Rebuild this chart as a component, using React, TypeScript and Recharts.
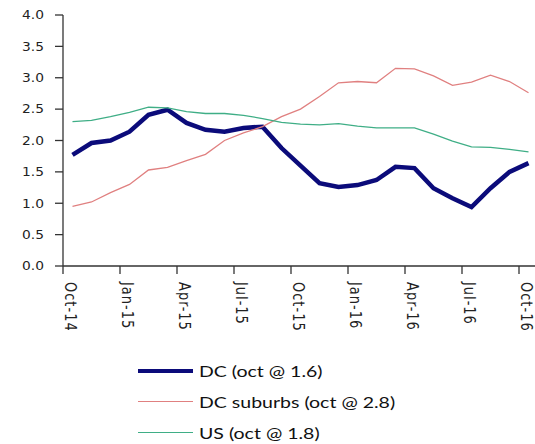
import React from "react";
import { LineChart, Line, XAxis, YAxis } from "recharts";

const months = [
  "Oct-14", "Nov-14", "Dec-14", "Jan-15", "Feb-15", "Mar-15", "Apr-15",
  "May-15", "Jun-15", "Jul-15", "Aug-15", "Sep-15", "Oct-15", "Nov-15",
  "Dec-15", "Jan-16", "Feb-16", "Mar-16", "Apr-16", "May-16", "Jun-16",
  "Jul-16", "Aug-16", "Sep-16", "Oct-16",
];

const dc = [
  1.77, 1.96, 2.0, 2.14, 2.41, 2.49, 2.28, 2.17, 2.14, 2.2, 2.22, 1.88, 1.6,
  1.32, 1.26, 1.29, 1.37, 1.58, 1.56, 1.24, 1.08, 0.94, 1.24, 1.5, 1.64,
];
const dcSuburbs = [
  0.95, 1.02, 1.17, 1.3, 1.53, 1.57, 1.68, 1.78, 2.0, 2.12, 2.22, 2.38, 2.5,
  2.7, 2.92, 2.94, 2.92, 3.15, 3.14, 3.03, 2.88, 2.93, 3.04, 2.94, 2.76,
];
const us = [
  2.3, 2.32, 2.38, 2.45, 2.53, 2.52, 2.46, 2.43, 2.43, 2.4, 2.35, 2.29, 2.26,
  2.25, 2.27, 2.23, 2.2, 2.2, 2.2, 2.1, 1.99, 1.9, 1.89, 1.86, 1.82,
];

const yTicks = [0, 0.5, 1, 1.5, 2, 2.5, 3, 3.5, 4];
// tick marks sit at category boundaries, every 3 months
const xTicks = months.map((_, i) => i - 0.5).filter((_, i) => i % 3 === 0);

const series = [
  { key: "dc", name: "DC (oct @ 1.6)", color: "#0b0b7a", width: 4.5 },
  { key: "sub", name: "DC suburbs (oct @ 2.8)", color: "#e08080", width: 1.3 },
  { key: "us", name: "US (oct @ 1.8)", color: "#3fae86", width: 1.3 },
];

const data = months.map((m, i) => ({
  i,
  month: m,
  dc: dc[i],
  sub: dcSuburbs[i],
  us: us[i],
}));

const tickFont = "DejaVu Sans";

function YTick({ x, y, payload }: any) {
  return (
    <g transform={`translate(${x},${y})`}>
      <text
        transform="scale(1.15,1)"
        textAnchor="end"
        dy="0.36em"
        style={{ fontSize: 12, fontFamily: tickFont }}
        fill="#222"
      >
        {Number(payload.value).toFixed(1)}
      </text>
    </g>
  );
}

function XTick({ x, payload }: any) {
  const label = months[Math.round(payload.value + 0.5)];
  return (
    <g transform={`translate(${x + 2},282)`}>
      <text
        transform="scale(1.2,1) rotate(90)"
        textAnchor="start"
        style={{ fontSize: 13, fontFamily: tickFont, letterSpacing: 1 }}
        fill="#222"
      >
        {label}
      </text>
    </g>
  );
}

export default function App() {
  return (
    <div
      style={{
        position: "absolute",
        left: 0,
        top: 0,
        width: 535,
        height: 444,
        overflow: "hidden",
        background: "#fff",
      }}
    >
      <LineChart
        width={538}
        height={444}
        data={data}
        margin={{ top: 15, right: 0, left: 0, bottom: 0 }}
      >
        <XAxis
          type="number"
          dataKey="i"
          domain={[-0.5, 24.5]}
          ticks={xTicks}
          interval={0}
          height={178}
          tickSize={8}
          tick={<XTick />}
          axisLine={{ stroke: "#333", strokeWidth: 1.3 }}
          tickLine={{ stroke: "#333", strokeWidth: 1.3 }}
        />
        <YAxis
          type="number"
          domain={[0, 4]}
          ticks={yTicks}
          width={63}
          tickSize={8}
          tickMargin={11}
          tick={<YTick />}
          axisLine={{ stroke: "#333", strokeWidth: 1.3 }}
          tickLine={{ stroke: "#333", strokeWidth: 1.3 }}
        />
        {series.map((s) => (
          <Line
            key={s.key}
            dataKey={s.key}
            name={s.name}
            stroke={s.color}
            strokeWidth={s.width}
            dot={false}
            type="linear"
            isAnimationActive={false}
          />
        ))}
      </LineChart>
      <div style={{ position: "absolute", left: 138, top: 355 }}>
        {series.map((s) => (
          <div
            key={s.key}
            style={{ display: "flex", alignItems: "center", height: 31 }}
          >
            <div
              style={{
                width: 55,
                height: s.width > 2 ? 4 : 1.3,
                background: s.color,
                marginRight: 6,
              }}
            />
            <span
              style={{
                display: "inline-block",
                transform: "scaleX(1.3)",
                transformOrigin: "left center",
                fontFamily: "Lato, sans-serif",
                fontSize: 15,
                color: "#111",
                whiteSpace: "nowrap",
              }}
            >
              {s.name}
            </span>
          </div>
        ))}
      </div>
    </div>
  );
}
